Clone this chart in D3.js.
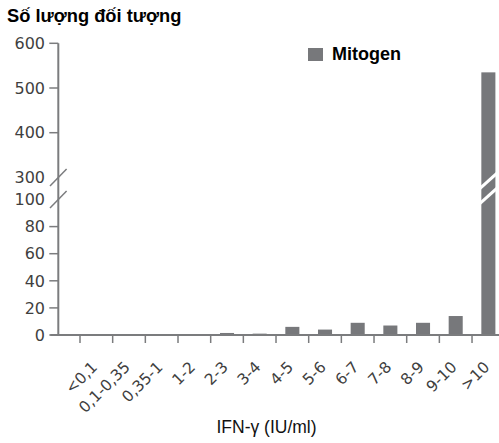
<!DOCTYPE html>
<html>
<head>
<meta charset="utf-8">
<script src="https://cdn.jsdelivr.net/npm/d3@7"></script>
<style>
  html, body { margin: 0; padding: 0; background: #fff; }
  svg { display: block; }
</style>
</head>
<body>
<svg class="chart" width="499" height="443"></svg>
<script>
/* data */
var categories = ["<0,1", "0,1-0,35", "0,35-1", "1-2", "2-3", "3-4", "4-5",
                  "5-6", "6-7", "7-8", "8-9", "9-10", ">10"];
var mitogen = [0, 0, 0, 0.5, 1.5, 1, 6, 4, 9, 7, 9, 14, 535];
var lowTicks = [0, 20, 40, 60, 80, 100];
var highTicks = [300, 400, 500, 600];
var seriesName = "Mitogen";
var titleText = "Số lượng đối tượng";
var xTitleText = "IFN-γ (IU/ml)";

var BAR = "#77787b";
var AXIS = "#7b7c7e";
var LABEL = "#3f3f3f";
var tickFont = "'DejaVu Sans', sans-serif";
var textFont = "'Liberation Sans', Arial, sans-serif";

var svg = d3.select("svg.chart");

// scales (axis is broken between 100 and 300)
var x = d3.scaleBand().domain(categories).range([80, 504.7]).padding(0);
var yLow = d3.scaleLinear().domain([0, 100]).range([335, 199.5]);
var yHigh = d3.scaleLinear().domain([300, 600]).range([177.4, 43.3]);
var axisX = 58.3;

function yVal(v) {
    return v > 100 ? yHigh(v) : yLow(v);
}

/* title */
svg.append("text")
    .attr("x", 7).attr("y", 22)
    .attr("font-family", textFont)
    .attr("font-size", 18.3)
    .attr("font-weight", "bold")
    .attr("fill", "#000")
    .text(titleText);

/* bars */
var barW = x.bandwidth() * 0.43;
svg.selectAll("rect.bar")
    .data(mitogen)
    .enter()
    .append("rect")
    .attr("class", "bar")
    .attr("x", function (d, i) { return x(categories[i]) + (x.bandwidth() - barW) / 2; })
    .attr("width", barW)
    .attr("y", function (d) { return yVal(d); })
    .attr("height", function (d) { return yLow(0) - yVal(d); })
    .attr("fill", BAR);

// white break marks over the tall bars
var gapMid = (yHigh(300) + yLow(100)) / 2;
mitogen.forEach(function (d, i) {
    if (d <= 100) return;
    var cx = x(categories[i]) + x.bandwidth() / 2;
    [-7.5, 7.5].forEach(function (off) {
        svg.append("line")
            .attr("x1", cx - 10).attr("y1", gapMid + off + 9)
            .attr("x2", cx + 10).attr("y2", gapMid + off - 9)
            .attr("stroke", "#fff")
            .attr("stroke-width", 3);
    });
});

/* y axis */
svg.append("line")
    .attr("x1", axisX).attr("x2", axisX)
    .attr("y1", yHigh(600)).attr("y2", yLow(0))
    .attr("stroke", AXIS).attr("stroke-width", 2);

function drawYTicks(scale, ticks, cls) {
    var g = svg.append("g").attr("class", cls);
    g.selectAll("line")
        .data(ticks.filter(function (t) { return t !== 300 && t !== 100; }))
        .enter().append("line")
        .attr("x1", axisX - 9).attr("x2", axisX)
        .attr("y1", function (d) { return scale(d); })
        .attr("y2", function (d) { return scale(d); })
        .attr("stroke", AXIS).attr("stroke-width", 1.5);
    g.selectAll("text")
        .data(ticks)
        .enter().append("text")
        .attr("x", 45)
        .attr("y", function (d) { return scale(d); })
        .attr("dy", "0.36em")
        .attr("text-anchor", "end")
        .attr("font-family", tickFont)
        .attr("font-size", 16)
        .attr("fill", LABEL)
        .text(function (d) { return d; });
}
drawYTicks(yLow, lowTicks, "y-low");
drawYTicks(yHigh, highTicks, "y-high");

// break slashes on the axis
[yHigh(300), yLow(100)].forEach(function (yy) {
    svg.append("line")
        .attr("x1", axisX - 8.3).attr("y1", yy + 8.5)
        .attr("x2", axisX + 8.3).attr("y2", yy - 8.5)
        .attr("stroke", AXIS).attr("stroke-width", 1.5);
});

/* x axis */
svg.append("line")
    .attr("x1", axisX - 8).attr("x2", 499)
    .attr("y1", yLow(0)).attr("y2", yLow(0))
    .attr("stroke", AXIS).attr("stroke-width", 2);

svg.selectAll("line.xtick")
    .data(categories)
    .enter().append("line")
    .attr("class", "xtick")
    .attr("x1", function (d) { return x(d); })
    .attr("x2", function (d) { return x(d); })
    .attr("y1", yLow(0)).attr("y2", yLow(0) + 8)
    .attr("stroke", AXIS).attr("stroke-width", 1.5);

svg.selectAll("text.xlabel")
    .data(categories)
    .enter().append("text")
    .attr("class", "xlabel")
    .attr("text-anchor", "end")
    .attr("transform", function (d) {
        return "translate(" + (x(d) + x.bandwidth() / 2 + 2) + "," + 368 + ") rotate(-45)";
    })
    .attr("font-family", tickFont)
    .attr("font-size", 15.5)
    .attr("fill", LABEL)
    .text(function (d) { return d; });

svg.append("text")
    .attr("x", 266.5).attr("y", 433)
    .attr("text-anchor", "middle")
    .attr("font-family", textFont)
    .attr("font-size", 17.5)
    .attr("fill", "#111")
    .text(xTitleText);

/* legend */
svg.append("rect")
    .attr("x", 308).attr("y", 48)
    .attr("width", 15).attr("height", 13)
    .attr("fill", BAR);
svg.append("text")
    .attr("x", 332).attr("y", 60)
    .attr("font-family", textFont)
    .attr("font-size", 18)
    .attr("font-weight", "bold")
    .attr("fill", "#000")
    .text(seriesName);
</script>
</body>
</html>
